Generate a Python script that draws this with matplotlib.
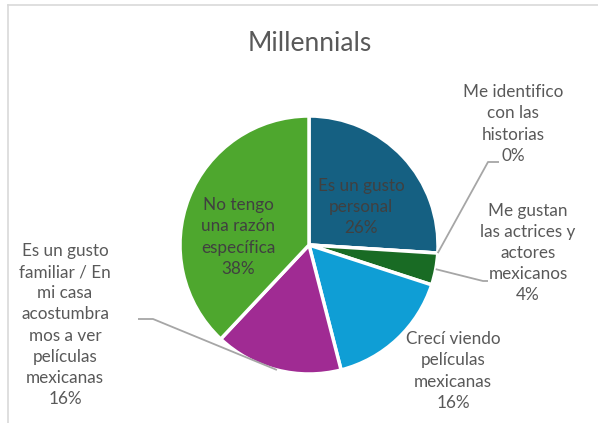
import numpy as np
import matplotlib.pyplot as plt

# Razones para ver cine mexicano - Millennials
labels = ["Es un gusto\npersonal", "Me identifico\ncon las\nhistorias",
          "Me gustan\nlas actrices y\nactores\nmexicanos",
          "Crecí viendo\npelículas\nmexicanas",
          "Es un gusto\nfamiliar / En\nmi casa\nacostumbra\nmos a ver\npelículas\nmexicanas",
          "No tengo\nuna razón\nespecífica"]
values = [26, 0, 4, 16, 16, 38]
colors = ["#156082", "#E97132", "#196B24", "#0F9ED5", "#A02B93", "#4EA72E"]

W, H = 598, 423
fig = plt.figure(figsize=(W / 100, H / 100), dpi=100)
ax = fig.add_axes([0, 0, 1, 1])
ax.set_xlim(0, W)
ax.set_ylim(0, H)
ax.set_aspect("equal")
ax.axis("off")

txt = "#595959"
font = "Lato"

# pie en coordenadas de pixeles (y hacia arriba)
cx, cy, r = 309, H - 245, 129
ax.pie(values, colors=colors, startangle=90, counterclock=False,
       center=(cx, cy), radius=r, frame=True,
       wedgeprops=dict(edgecolor="white", linewidth=2.5))
ax.set_xlim(0, W)
ax.set_ylim(0, H)
ax.axis("off")


def edge_point(i):
    # punto medio del borde de la rebanada i
    start = sum(values[:i]) / sum(values) * 360
    mid = np.radians(start + values[i] / sum(values) * 180)
    return cx + r * np.sin(mid), cy + r * np.cos(mid)


# posiciones de etiquetas (px desde arriba)
label_pos = [(361, 207), (513, 124), (528, 253), (453, 371), (65, 325), (238, 237)]
inside = [True, False, False, False, False, True]
for lab, v, (x, y), ins in zip(labels, values, label_pos, inside):
    ax.text(x, H - y, f"{lab}\n{v}%", ha="center", va="center",
            fontsize=12.3, color="#404040" if ins else txt, family=font,
            linespacing=1.4)

# lineas guia
lc = "#A6A6A6"
for i, pts in [(1, [(488, 162), (499, 162)]),
               (2, [(483, 281), (488, 281)]),
               (4, [(153, 319), (138, 319)])]:
    x0, y0 = edge_point(i)
    xs = [x0] + [p[0] for p in pts]
    ys = [y0] + [H - p[1] for p in pts]
    ax.plot(xs, ys, color=lc, lw=1.3, solid_capstyle="butt")

# titulo
ax.text(310, H - 43, "Millennials", ha="center", va="center",
        fontsize=19, color=txt, family=font)

# marco del grafico
ax.plot([8, W], [H - 5, H - 5], color="#D9D9D9", lw=1.2)
ax.plot([8, 8], [H - 5, 0], color="#D9D9D9", lw=1.2)

fig.savefig("out.png", dpi=100, facecolor="white")
